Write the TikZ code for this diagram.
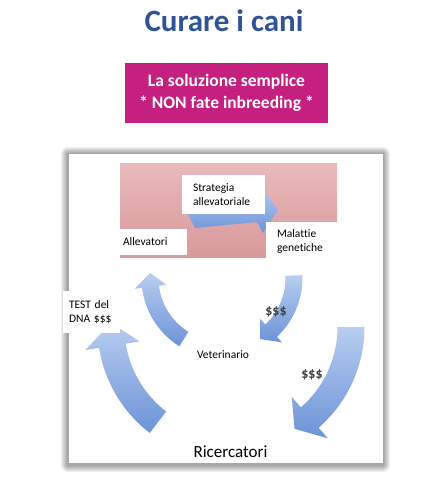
\documentclass[tikz,border=0pt]{standalone}
\usepackage{fontspec}
\setmainfont[Ligatures=NoCommon]{Carlito}
\usepackage{xcolor}
\usepackage{tikz}

\definecolor{titleblue}{RGB}{47,84,150}
\definecolor{boxmagenta}{RGB}{197,32,128}
\definecolor{pinktop}{RGB}{233,186,188}
\definecolor{pinkbot}{RGB}{216,153,155}
\definecolor{arrowtop}{RGB}{184,205,240}
\definecolor{arrowbot}{RGB}{108,147,216}
\definecolor{dollargray}{RGB}{64,64,64}

% ring arrow: center, radius, tail angle, base angle, tip angle, band width, head width
\newcommand{\ringarrow}[7]{%
  \path[arrowfill,shift={(#1)}]
    (#3:#2+#6/2) arc[start angle=#3,end angle=#4,radius=#2+#6/2]
    -- (#4:#2+#7/2) -- (#5:#2) -- (#4:#2-#7/2) -- (#4:#2-#6/2)
    arc[start angle=#4,end angle=#3,radius=#2-#6/2] -- cycle;}

\begin{document}
\begin{tikzpicture}[x=1pt,y=-1pt,
  arrowfill/.style={top color=arrowtop,bottom color=arrowbot},
  lbl/.style={fill=white,align=left,inner ysep=0pt,font=\fontsize{11.5}{14}\selectfont},
  dollar/.style={font=\fontsize{14}{16}\selectfont\bfseries,text=dollargray,anchor=base}]
\useasboundingbox (0,0) rectangle (444,495);

\node[anchor=base,text=titleblue,font=\fontsize{31}{37}\selectfont\bfseries] (T) at (224,31.5) {Curare i cani};
\node[fill=boxmagenta,text=white,align=center,minimum width=203pt,minimum height=60pt,
      font=\fontsize{17.5}{22}\selectfont\bfseries] (S) at (226.5,93) {La soluzione semplice\\ * NON fate inbreeding *};

% frame with soft shadow
\foreach \d in {1,...,7}
  \fill[black,opacity=0.06,rounded corners=\d pt] (68-\d,153-\d+1) rectangle (383+\d,463+\d+2);
\fill[white,draw=gray!70,line width=0.8pt] (68,153) rectangle (383,463);

% top band
\shade[top color=pinktop,bottom color=pinkbot] (120,163) rectangle (337,257);
\path[arrowfill] (186,210) -- (255,198) -- (261,186) -- (278,210) -- (263,233) -- (257,222) -- (195,228) -- cycle;

\node[lbl,text width=61pt,inner xsep=11pt,minimum height=39pt] (A) at (223.5,194.5) {Strategia\\allevatoriale};
\node[lbl,text width=61pt,inner xsep=3pt,minimum height=26pt] (B) at (153.5,242) {Allevatori};
\node[lbl,text width=50pt,inner xsep=11pt,minimum height=38pt] (C) at (302,241) {Malattie\\genetiche};

% cycle
\ringarrow{231,327}{120}{127.5}{171}{182}{27}{55}
\ringarrow{231,327}{120}{0}{49}{58}{27}{55}
\ringarrow{222,278}{72}{122}{173}{184}{17}{32}
\ringarrow{222,278}{72}{-2}{47}{58}{17}{32}

\node[lbl,text width=45pt,inner xsep=6pt,minimum height=42pt] (D) at (91.5,312) {TEST del\\DNA \$\$\$};
\node[anchor=base,font=\fontsize{11.5}{14}\selectfont] (V) at (223,358) {Veterinario};
\node[dollar] (M1) at (276,315) {\$\$\$};
\node[dollar] (M2) at (312,378) {\$\$\$};
\node[anchor=base,font=\fontsize{17}{20}\selectfont] (R) at (230.5,457) {Ricercatori};

\end{tikzpicture}
\end{document}
